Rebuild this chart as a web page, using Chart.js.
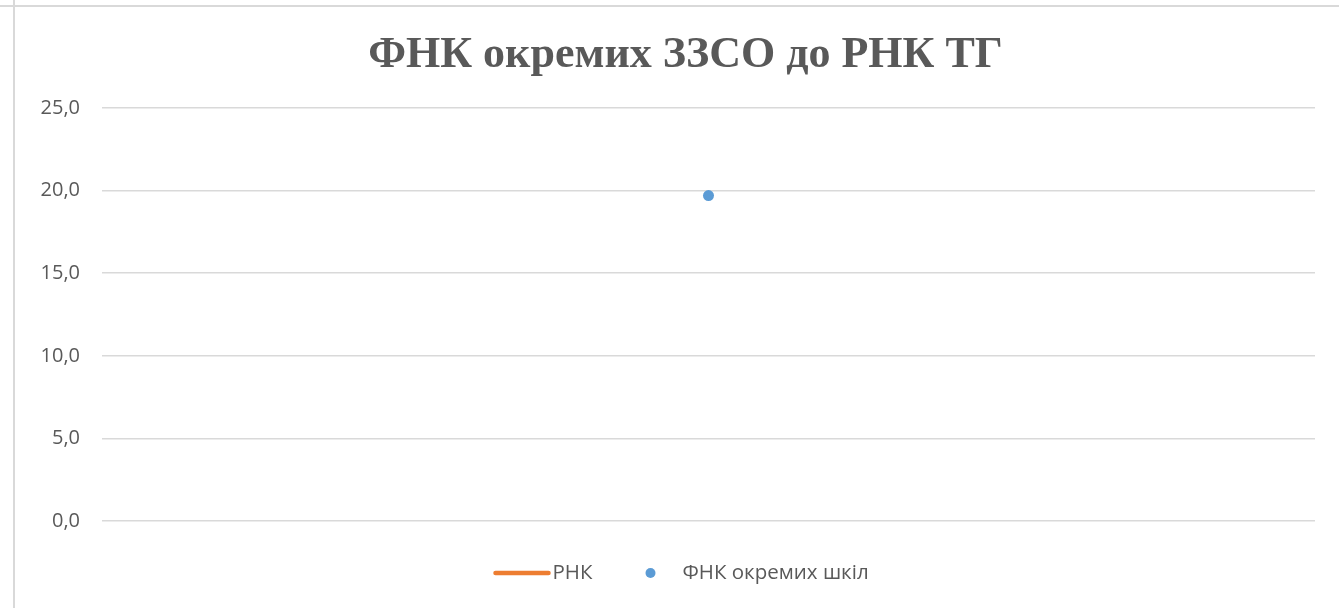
<!DOCTYPE html>
<html>
<head>
<meta charset="utf-8">
<script src="https://cdn.jsdelivr.net/npm/chart.js@4.4.1/dist/chart.umd.min.js"></script>
<style>
  html, body { margin: 0; padding: 0; background: #fff; }
  #wrap { position: relative; width: 1339px; height: 608px; }
  #topLine { position: absolute; left: 0; top: 5px; width: 1339px; height: 2px; background: #d9d9d9; }
  #leftLine { position: absolute; left: 13px; top: 0; width: 2px; height: 608px; background: #d9d9d9; }
</style>
</head>
<body>
<div id="wrap">
  <canvas id="fnkChart" width="1339" height="608"></canvas>
  <div id="topLine"></div>
  <div id="leftLine"></div>
</div>
<script>
let categories = [""];
let rnkValues = [null];
let fnkValues = [19.7];
let yTicks = [0, 5, 10, 15, 20, 25];
let titleText = "ФНК окремих ЗЗСО до РНК ТГ";

let legendItems = [
    { text: "РНК", color: "#ED7D31", kind: "line" },
    { text: "ФНК окремих шкіл", color: "#5B9BD5", kind: "dot" }
];

const textGray = "#595959";

// title and legend drawn by hand (title sits a bit right of centre in the original)
const customDecor = {
    id: 'customDecor',
    afterDraw(chart) {
        let ctx = chart.ctx;
        let cx = chart.width / 2;
        ctx.save();

        ctx.font = "bold 44px 'Liberation Serif', 'Times New Roman', serif";
        ctx.fillStyle = textGray;
        ctx.textAlign = "center";
        ctx.textBaseline = "alphabetic";
        ctx.fillText(titleText, cx + 16, 67);

        let y = 573;
        ctx.font = "20.5px 'Open Sans', sans-serif";
        ctx.textAlign = "left";
        ctx.textBaseline = "middle";

        // line item
        ctx.strokeStyle = legendItems[0].color;
        ctx.lineWidth = 4.5;
        ctx.lineCap = "round";
        ctx.beginPath();
        ctx.moveTo(cx - 174, y);
        ctx.lineTo(cx - 121, y);
        ctx.stroke();
        ctx.fillStyle = textGray;
        ctx.fillText(legendItems[0].text, cx - 117, y);

        // dot item
        ctx.fillStyle = legendItems[1].color;
        ctx.beginPath();
        ctx.arc(cx - 19, y, 5, 0, Math.PI * 2);
        ctx.fill();
        ctx.fillStyle = textGray;
        ctx.fillText(legendItems[1].text, cx + 13, y);
        ctx.restore();
    }
};

let ctx = document.getElementById('fnkChart').getContext('2d');
let chart = new Chart(ctx, {
    type: 'line',
    data: {
        labels: categories,
        datasets: [
            {
                label: legendItems[0].text,
                data: rnkValues,
                borderColor: legendItems[0].color,
                borderWidth: 3,
                pointRadius: 0
            },
            {
                label: legendItems[1].text,
                data: fnkValues,
                showLine: false,
                pointRadius: 5.5,
                pointBackgroundColor: legendItems[1].color,
                pointBorderWidth: 0
            }
        ]
    },
    options: {
        responsive: false,
        animation: false,
        layout: { padding: { left: 38, right: 24, top: 108, bottom: 87 } },
        plugins: {
            legend: { display: false },
            tooltip: { enabled: false },
            title: { display: false }
        },
        scales: {
            x: { display: false, offset: true },
            y: {
                min: 0,
                max: 25,
                afterFit: (scale) => { scale.width = 64; },
                afterBuildTicks: (scale) => { scale.ticks = yTicks.map(v => ({ value: v })); },
                border: { display: false },
                grid: { color: "#d9d9d9", lineWidth: 1.5, drawTicks: false },
                ticks: {
                    padding: 22,
                    color: textGray,
                    font: { family: "'Open Sans', sans-serif", size: 20 },
                    callback: (v) => v.toFixed(1).replace('.', ',')
                }
            }
        }
    },
    plugins: [customDecor]
});
</script>
</body>
</html>
